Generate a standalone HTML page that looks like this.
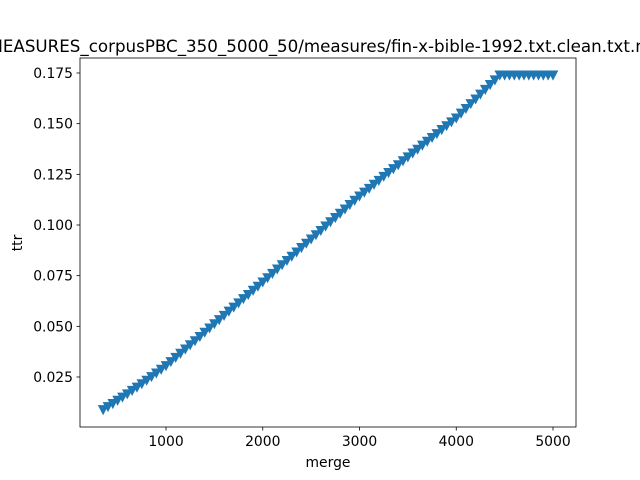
<!DOCTYPE html>
<html><head><meta charset="utf-8"><style>
html,body{margin:0;padding:0;background:#fff;overflow:hidden}
svg{display:block;font-family:"DejaVu Sans","Liberation Sans",sans-serif}
</style></head><body>
<svg id="c" width="640" height="480" xmlns="http://www.w3.org/2000/svg">
<rect width="640" height="480" fill="#fff"/>
<text x="320" y="52" text-anchor="middle" font-size="16.7">MEASURES_corpusPBC_350_5000_50/measures/fin-x-bible-1992.txt.clean.txt.m</text>
<g id="plot"></g>
<rect x="80" y="58" width="496" height="369" fill="none" stroke="#000" stroke-width="0.8"/>
<text x="328" y="467" text-anchor="middle" font-size="13.9">merge</text>
<text transform="translate(22,243) rotate(-90)" text-anchor="middle" font-size="13.9">ttr</text>
</svg>
<script>
const xStart = 350, xStep = 50;
const ttr = [.0089,.0104,.0119,.0135,.0151,.0167,.0184,.0200,.0217,.0234,.0252,.0270,.0288,.0306,
.0326,.0347,.0367,.0388,.0409,.0429,.0450,.0471,.0492,.0513,.0533,.0554,.0575,.0595,.0616,.0637,.0657,.0678,.0698,.0719,
.0740,.0761,.0783,.0804,.0825,.0846,.0867,.0889,.0910,.0931,.0952,.0973,.0995,.1016,.1037,.1058,.1079,.1101,.1122,.1143,
.1162,.1181,.1201,.1220,.1240,.1259,.1278,.1297,.1317,.1336,.1355,.1374,.1394,.1413,.1432,.1451,.1471,.1490,.1509,.1528,
.1552,.1575,.1599,.1622,.1646,.1669,.1693,.1716,.1740,
.1740,.1740,.1740,.1740,.1740,.1740,.1740,.1740,.1740,.1740,.1740];
const xTicks = [1000,2000,3000,4000,5000];
const yTicks = [0.025,0.050,0.075,0.100,0.125,0.150,0.175];
const yTickLabels = ["0.025","0.050","0.075","0.100","0.125","0.150","0.175"];

const X = v => 166 + (v-1000)*(553-166)/4000;
const Y = v => 377 - (v-0.025)*(377-73)/0.15;
const NS="http://www.w3.org/2000/svg";
const g=document.getElementById('plot');
function mk(t,a){const e=document.createElementNS(NS,t);for(const k in a)e.setAttribute(k,a[k]);g.appendChild(e);return e;}
xTicks.forEach(t=>{
  const l=mk('line',{x1:X(t),x2:X(t),y1:427,y2:430.5,stroke:'#000','stroke-width':0.8});
  
  
  const tx=mk('text',{x:X(t),y:446,'text-anchor':'middle','font-size':13.9});
  tx.textContent=t;
  
  
});
yTicks.forEach((t,i)=>{
  const l=mk('line',{x1:76.5,x2:80,y1:Y(t),y2:Y(t),stroke:'#000','stroke-width':0.8});
  
  
  const tx=mk('text',{x:73,y:Y(t)+5,'text-anchor':'end','font-size':13.9});
  tx.textContent=yTickLabels[i];
  
  
});
const pts=ttr.map((v,i)=>[X(xStart+i*xStep),Y(v)]);
const line=mk('polyline',{points:pts.map(p=>p.join(',')).join(' '),fill:'none',stroke:'#1f77b4','stroke-width':1.5});


pts.forEach(([x,y])=>{
  const m=mk('polygon',{points:`${x-4.5},${y-4} ${x+4.5},${y-4} ${x},${y+4.5}`,fill:'#1f77b4',stroke:'#1f77b4','stroke-width':1});
  
  
});
</script>
</body></html>
